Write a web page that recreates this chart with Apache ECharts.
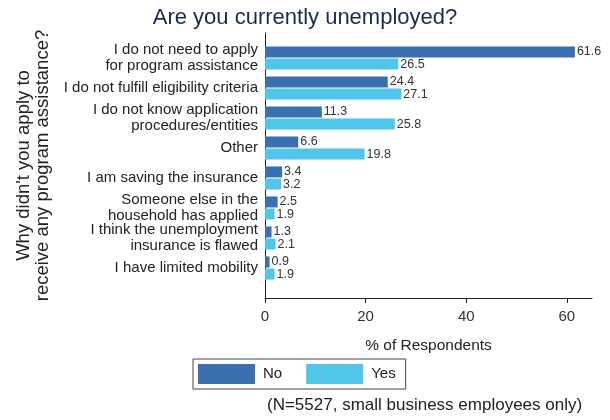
<!DOCTYPE html>
<html>
<head>
<meta charset="utf-8">
<script src="https://cdn.jsdelivr.net/npm/echarts@6/dist/echarts.min.js"></script>
<style>html,body{margin:0;padding:0;background:#fff}#c{width:610px;height:420px}</style>
</head>
<body>
<div id="c"></div>
<script>
var categories = [
  "I do not need to apply\nfor program assistance",
  "I do not fulfill eligibility criteria",
  "I do not know application\nprocedures/entities",
  "Other",
  "I am saving the insurance",
  "Someone else in the\nhousehold has applied",
  "I think the unemployment\ninsurance is flawed",
  "I have limited mobility"
];
var noValues = [61.6, 24.4, 11.3, 6.6, 3.4, 2.5, 1.3, 0.9];
var yesValues = [26.5, 27.1, 25.8, 19.8, 3.2, 1.9, 2.1, 1.9];
var xTicks = [0, 20, 40, 60];

var font = 'Liberation Sans, Arial, sans-serif';
var chart = echarts.init(document.getElementById('c'), null, {renderer: 'canvas'});
var labelCfg = {show: true, position: 'right', distance: 2, fontSize: 12.5, color: '#333', fontFamily: font,
  formatter: function (p) { return p.value.toFixed(1); }};
chart.setOption({
  animation: false,
  backgroundColor: '#fff',
  textStyle: {fontFamily: font},
  title: [
    {text: 'Are you currently unemployed?', left: 'center', top: 2,
     textStyle: {fontSize: 22, fontWeight: 'normal', color: '#1c2a4a', fontFamily: font}},
    {text: '(N=5527, small business employees only)', left: 262, top: 392,
     textStyle: {fontSize: 17, fontWeight: 'normal', color: '#222', fontFamily: font}}
  ],
  legend: {
    data: ['No', 'Yes'], left: 193, top: 359, orient: 'horizontal',
    padding: [5, 10, 5, 5], itemGap: 24, itemWidth: 57, itemHeight: 20,
    borderColor: '#444', borderWidth: 1, borderRadius: 0, icon: 'rect',
    textStyle: {fontSize: 15, color: '#222', fontFamily: font, padding: [0, 0, 0, 3]}
  },
  grid: [
    {left: 265, right: 18, top: 43, bottom: 137},
    {left: 265, right: 18, top: 33, bottom: 122}
  ],
  xAxis: [
    {gridIndex: 0, type: 'value', min: 0, max: 65, show: false},
    {gridIndex: 1, type: 'value', min: 0, max: 65,
     axisLine: {show: true, lineStyle: {color: '#222', width: 1}},
     axisTick: {show: true, length: 5, lineStyle: {color: '#222'}, customValues: xTicks},
     axisLabel: {fontSize: 15, color: '#333', margin: 11, fontFamily: font, customValues: xTicks},
     splitLine: {show: false},
     name: '% of Respondents', nameLocation: 'middle', nameGap: 40,
     nameTextStyle: {fontSize: 15.5, color: '#222', fontFamily: font}}
  ],
  yAxis: [
    {gridIndex: 0, type: 'category', data: categories, inverse: true,
     axisLine: {show: false}, axisTick: {show: false},
     axisLabel: {fontSize: 15, color: '#222', margin: 7, lineHeight: 16, fontFamily: font, align: 'right'}},
    {gridIndex: 1, type: 'value', min: 0, max: 1,
     axisLine: {show: true, lineStyle: {color: '#222', width: 1}},
     axisTick: {show: false}, axisLabel: {show: false}, splitLine: {show: false},
     name: "Why didn't you apply to\nreceive any program assistance?",
     nameLocation: 'middle', nameGap: 213, nameRotate: 90,
     nameTextStyle: {fontSize: 18.5, color: '#222', lineHeight: 19, fontFamily: font, align: 'center'}}
  ],
  series: [
    {name: 'No', type: 'bar', xAxisIndex: 0, yAxisIndex: 0, data: noValues,
     barWidth: 11, barGap: '10%', itemStyle: {color: '#3a6fb0'}, label: labelCfg},
    {name: 'Yes', type: 'bar', xAxisIndex: 0, yAxisIndex: 0, data: yesValues,
     barWidth: 11, barGap: '10%', itemStyle: {color: '#4fc6ea'}, label: labelCfg}
  ]
});
</script>
</body>
</html>
